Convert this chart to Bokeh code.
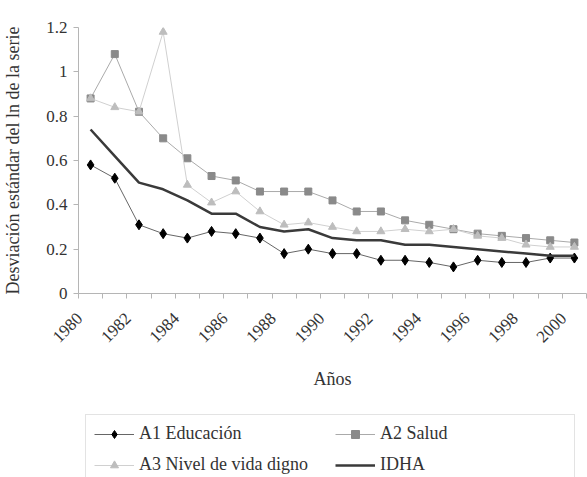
import math
from bokeh.plotting import figure
from bokeh.layouts import column
from bokeh.models import FixedTicker, Legend, LegendItem, Range1d
from bokeh.embed import file_html
from bokeh.resources import INLINE

years = list(range(1980, 2001))
a1_educacion = [0.58, 0.52, 0.31, 0.27, 0.25, 0.28, 0.27, 0.25, 0.18, 0.20, 0.18,
                0.18, 0.15, 0.15, 0.14, 0.12, 0.15, 0.14, 0.14, 0.16, 0.16]
a2_salud = [0.88, 1.08, 0.82, 0.70, 0.61, 0.53, 0.51, 0.46, 0.46, 0.46, 0.42,
            0.37, 0.37, 0.33, 0.31, 0.29, 0.27, 0.26, 0.25, 0.24, 0.23]
a3_nivel = [0.88, 0.84, 0.82, 1.18, 0.49, 0.41, 0.46, 0.37, 0.31, 0.32, 0.30,
            0.28, 0.28, 0.29, 0.28, 0.29, 0.26, 0.25, 0.22, 0.21, 0.21]
idha = [0.74, 0.62, 0.50, 0.47, 0.42, 0.36, 0.36, 0.30, 0.28, 0.29, 0.25,
        0.24, 0.24, 0.22, 0.22, 0.21, 0.20, 0.19, 0.18, 0.17, 0.17]

x_tick_years = list(range(1980, 2001, 2))
x_tick_labels = [str(y) for y in x_tick_years]
y_ticks = [0, 0.2, 0.4, 0.6, 0.8, 1.0, 1.2]
y_tick_labels = ["0", "0.2", "0.4", "0.6", "0.8", "1", "1.2"]

series_names = ["A1 Educación", "A2 Salud", "A3 Nivel de vida digno", "IDHA"]

FONT = "Liberation Serif"
TXT = "#333333"
AX = "#b5b5b5"

C1_LINE, C1_MARK = "#666666", "black"
C2_LINE, C2_MARK = "#aaaaaa", "#8a8a8a"
C3_LINE, C3_MARK = "#d0d0d0", "#bdbdbd"
C4_LINE = "#3a3a3a"

# rotated labels end a little left of the category centre (as in the original)
LABEL_SHIFT = 0.45

p = figure(width=587, height=404, output_backend="svg", toolbar_location=None,
           x_range=Range1d(1979.5, 2000.5), y_range=Range1d(0, 1.2),
           min_border_left=78, min_border_right=1, min_border_top=27,
           min_border_bottom=111)
p.outline_line_color = None
p.grid.visible = False
p.background_fill_color = "white"
p.border_fill_color = "white"

# x axis
label_pos = [y - LABEL_SHIFT for y in x_tick_years]
p.xaxis.ticker = FixedTicker(ticks=label_pos,
                             minor_ticks=[y - 0.5 for y in years] + [years[-1] + 0.5])
p.xaxis.major_label_overrides = {t: l for t, l in zip(label_pos, x_tick_labels)}
p.xaxis.major_tick_line_color = None
p.xaxis.minor_tick_line_color = AX
p.xaxis.minor_tick_in = 0
p.xaxis.minor_tick_out = 5
p.xaxis.major_label_orientation = math.pi / 4
p.xaxis.major_label_standoff = 16
p.xaxis.axis_label = "Años"
p.xaxis.axis_label_standoff = 19

# y axis
p.yaxis.ticker = FixedTicker(ticks=y_ticks)
p.yaxis.major_label_overrides = {t: l for t, l in zip(y_ticks, y_tick_labels)}
p.yaxis.major_tick_line_color = AX
p.yaxis.major_tick_in = 0
p.yaxis.major_tick_out = 5
p.yaxis.minor_tick_line_color = None
p.yaxis.major_label_standoff = 6
p.yaxis.axis_label = "Desviación estándar del ln de la serie"
p.yaxis.axis_label_standoff = 20

for ax in (p.xaxis, p.yaxis):
    ax.axis_line_color = AX
    ax.major_label_text_font = FONT
    ax.major_label_text_font_size = "17px"
    ax.major_label_text_color = TXT
    ax.axis_label_text_font = FONT
    ax.axis_label_text_font_size = "18px"
    ax.axis_label_text_font_style = "normal"
    ax.axis_label_text_color = TXT

# series
p.line(years, a1_educacion, line_color=C1_LINE, line_width=1)
p.scatter(years, a1_educacion, marker="diamond", size=10,
          fill_color=C1_MARK, line_color=C1_MARK)
p.line(years, a2_salud, line_color=C2_LINE, line_width=1)
p.scatter(years, a2_salud, marker="square", size=7,
          fill_color=C2_MARK, line_color=C2_MARK)
p.line(years, a3_nivel, line_color=C3_LINE, line_width=1)
p.scatter(years, a3_nivel, marker="triangle", size=8,
          fill_color=C3_MARK, line_color=C3_MARK)
p.line(years, idha, line_color=C4_LINE, line_width=2.5)

# legend panel (separate canvas; its ranges keep the series out of view,
# so only the legend swatches are visible)
q = figure(width=587, height=73, output_backend="svg", toolbar_location=None,
           x_axis_type=None, y_axis_type=None, min_border=0,
           x_range=Range1d(0, 1), y_range=Range1d(0, 1))
q.outline_line_color = None
q.grid.visible = False
q.background_fill_color = "white"
q.border_fill_color = "white"

e1 = q.line(years, a1_educacion, line_color=C1_LINE, line_width=1)
s1 = q.scatter(years, a1_educacion, marker="diamond", size=9, fill_color=C1_MARK, line_color=C1_MARK)
e2 = q.line(years, a2_salud, line_color=C2_LINE, line_width=1)
s2 = q.scatter(years, a2_salud, marker="square", size=5, fill_color=C2_MARK, line_color=C2_MARK)
e3 = q.line(years, a3_nivel, line_color=C3_LINE, line_width=1)
s3 = q.scatter(years, a3_nivel, marker="triangle", size=6, fill_color=C3_MARK, line_color=C3_MARK)
e4 = q.line(years, idha, line_color=C4_LINE, line_width=2.5)

legend = Legend(items=[
    LegendItem(label=series_names[0], renderers=[e1, s1]),
    LegendItem(label=series_names[1], renderers=[e2, s2]),
    LegendItem(label=series_names[2], renderers=[e3, s3]),
    LegendItem(label=series_names[3], renderers=[e4]),
], orientation="horizontal", ncols=2, location=(7, -7))
legend.border_line_color = "#c8c8c8"
legend.border_line_width = 1
legend.background_fill_alpha = 1
legend.padding = 8
legend.margin = 0
legend.spacing = 10
legend.glyph_width = 40
legend.glyph_height = 20
legend.label_standoff = 5
legend.label_width = 186
legend.label_height = 20
legend.label_text_font = FONT
legend.label_text_font_size = "18px"
legend.label_text_color = TXT
q.add_layout(legend, "center")

layout = column(p, q, spacing=0)
open("out.html", "w").write(file_html(layout, INLINE))
